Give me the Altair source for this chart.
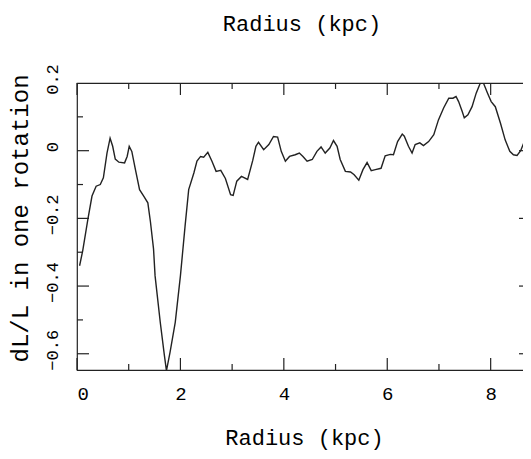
import altair as alt
import pandas as pd

# ---- data ----
radius = [0.05, 0.11, 0.21, 0.29, 0.37, 0.45, 0.51, 0.58, 0.64, 0.69, 0.74, 0.81, 0.92, 0.97,
          1.01, 1.06, 1.13, 1.21, 1.29, 1.37, 1.42, 1.48, 1.51, 1.61, 1.69, 1.73, 1.80, 1.90,
          2.00, 2.09, 2.16, 2.26, 2.32, 2.39, 2.45, 2.53, 2.61, 2.69, 2.78, 2.87, 2.97, 3.02,
          3.09, 3.18, 3.30, 3.40, 3.46, 3.51, 3.61, 3.71, 3.80, 3.88, 3.95, 4.03, 4.11, 4.22,
          4.30, 4.37, 4.45, 4.55, 4.64, 4.72, 4.80, 4.89, 4.96, 5.03, 5.09, 5.19, 5.29, 5.36,
          5.45, 5.53, 5.61, 5.69, 5.77, 5.88, 5.96, 6.06, 6.12, 6.20, 6.29, 6.33, 6.41, 6.48,
          6.54, 6.63, 6.70, 6.80, 6.90, 6.99, 7.09, 7.19, 7.27, 7.33, 7.38, 7.45, 7.49, 7.56,
          7.64, 7.72, 7.80, 7.86, 7.94, 8.01, 8.09, 8.19, 8.28, 8.37, 8.44, 8.51, 8.58, 8.64,
          8.72, 8.80]
dl_over_l = [-0.340, -0.296, -0.203, -0.134, -0.105, -0.100, -0.080, -0.007, 0.037, 0.013,
             -0.025, -0.034, -0.036, -0.017, 0.013, -0.002, -0.056, -0.115, -0.134, -0.154,
             -0.210, -0.290, -0.370, -0.507, -0.605, -0.650, -0.595, -0.507, -0.370, -0.223,
             -0.115, -0.066, -0.031, -0.017, -0.019, -0.005, -0.031, -0.061, -0.058, -0.082,
             -0.130, -0.132, -0.090, -0.076, -0.085, -0.028, 0.013, 0.025, 0.003, 0.018,
             0.042, 0.040, -0.002, -0.031, -0.017, -0.012, -0.007, -0.017, -0.031, -0.026,
             -0.002, 0.011, -0.007, 0.008, 0.030, 0.013, -0.026, -0.061, -0.063, -0.071,
             -0.087, -0.056, -0.035, -0.059, -0.056, -0.052, -0.015, -0.011, -0.012, 0.027,
             0.049, 0.043, 0.013, -0.007, 0.018, 0.023, 0.015, 0.027, 0.047, 0.091,
             0.126, 0.155, 0.155, 0.160, 0.145, 0.116, 0.097, 0.106, 0.130, 0.170,
             0.200, 0.200, 0.170, 0.145, 0.130, 0.081, 0.032, -0.002, -0.012, -0.014,
             0.000, 0.023, 0.039, 0.039]

x_major = [0, 2, 4, 6, 8]
x_minor = [1, 3, 5, 7]
y_major = [-0.6, -0.4, -0.2, 0.0, 0.2]
y_minor = [-0.5, -0.3, -0.1, 0.1]

x_title = "Radius (kpc)"
top_title = "Radius (kpc)"
y_title = "dL/L in one rotation"

# ---- layout / style ----
W, H = 454, 287
FONT = "Liberation Mono"
INK = "#222222"
MAJ, MIN = 12, 6

xs = alt.Scale(domain=[0, 8.78], nice=False, zero=False)
ys = alt.Scale(domain=[-0.648, 0.2], nice=False, zero=False)

ax_x = alt.Axis(values=x_major, format="d", title=x_title, tickSize=0,
                domain=False, grid=False, labelFont=FONT, labelFontSize=19,
                labelPadding=14, labelColor="black", titleFont=FONT,
                titleFontSize=22, titleFontWeight="normal",
                titleBaseline="alphabetic", titleY=74, titleColor="black")
ax_y = alt.Axis(values=y_major, format="~g", title=y_title, tickSize=0,
                domain=False, grid=False, labelFont=FONT, labelFontSize=17,
                labelAngle=270, labelAlign="center", labelBaseline="alphabetic",
                labelPadding=20, labelOffset=-4, labelColor="black",
                titleFont=FONT, titleFontSize=24, titleFontWeight="normal",
                titleAngle=270, titleAlign="center", titleBaseline="alphabetic",
                titleX=-50, titleY=135, titleColor="black")

df = pd.DataFrame({"r": radius, "d": dl_over_l})

line = alt.Chart(df).mark_line(color=INK, strokeWidth=1.4, clip=True).encode(
    x=alt.X("r:Q", scale=xs, axis=ax_x),
    y=alt.Y("d:Q", scale=ys, axis=ax_y),
)

def xticks(vals, y0, y1):
    return alt.Chart(pd.DataFrame({"r": vals})).mark_rule(color=INK, strokeWidth=1.2).encode(
        x=alt.X("r:Q", scale=xs, axis=ax_x), y=alt.value(y0), y2=alt.value(y1))

def yticks(vals, x0, x1):
    return alt.Chart(pd.DataFrame({"d": vals})).mark_rule(color=INK, strokeWidth=1.2).encode(
        y=alt.Y("d:Q", scale=ys, axis=ax_y), x=alt.value(x0), x2=alt.value(x1))

ymaj = [v for v in y_major if v < 0.2]

top = alt.Chart(pd.DataFrame({"t": [top_title]})).mark_text(
    font=FONT, fontSize=22, color="black", baseline="alphabetic", align="center"
).encode(text="t:N", x=alt.value(W / 2 - 2), y=alt.value(-51.6))

chart = alt.layer(
    line,
    xticks(x_major, H, H - MAJ), xticks(x_minor, H, H - MIN),
    xticks(x_major, 0, MAJ), xticks(x_minor, 0, MIN),
    yticks(ymaj, 0, MAJ), yticks(y_minor, 0, MIN),
    yticks(ymaj, W, W - MAJ), yticks(y_minor, W, W - MIN),
    top,
).properties(
    width=W, height=H,
    autosize=alt.AutoSizeParams(type="none"),
    padding={"left": 69, "top": 75, "right": -8, "bottom": 81},
).configure_view(stroke=INK, strokeWidth=1.2)

chart.save("out.html", embed_options={"renderer": "svg", "actions": False})
